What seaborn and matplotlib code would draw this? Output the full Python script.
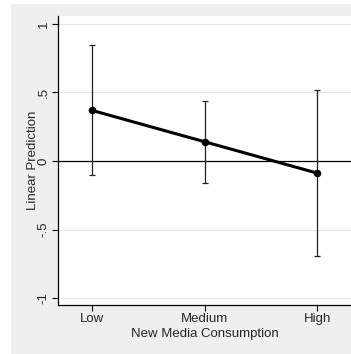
import matplotlib
matplotlib.use("Agg")
import matplotlib.pyplot as plt
import seaborn as sns
import pandas as pd
import numpy as np

# margins estimates
levels = ["Low", "Medium", "High"]
estimate = [0.37, 0.141, -0.088]
ci_low = [-0.104, -0.158, -0.693]
ci_high = [0.847, 0.44, 0.518]
yticks = [-1, -0.5, 0, 0.5, 1]
ytick_labels = ["-1", "-.5", "0", ".5", "1"]

df = pd.DataFrame({"level": levels, "est": estimate})

sns.set_style("white")
plt.rcParams["font.family"] = ["Liberation Sans", "DejaVu Sans"]

fig = plt.figure(figsize=(3.51, 3.54), dpi=100)
fig.patch.set_facecolor("white")
# stata graph region
fig.patches.append(plt.Rectangle((11 / 351, 0), 1, 1 - 4 / 354, transform=fig.transFigure,
                                 facecolor="#efefef", edgecolor="none", zorder=-10))
ax = fig.add_axes([58 / 351, 1 - 305 / 354, 1 - 58 / 351, (305 - 16) / 354])
ax.set_facecolor("white")

est = np.array(estimate)
yerr = [est - np.array(ci_low), np.array(ci_high) - est]
ax.errorbar(levels, estimate, yerr=yerr, fmt="none", ecolor="#222222",
            elinewidth=0.9, capsize=2.5, capthick=0.9, zorder=2)
sns.pointplot(data=df, x="level", y="est", order=levels, color="black",
              errorbar=None, markers="o", markersize=3.8, linewidth=2.2, ax=ax, zorder=3)

ax.axhline(0, color="black", lw=0.9, zorder=1)
for t in [-1, -0.5, 0.5, 1]:
    ax.axhline(t, color="#e6e6e6", lw=0.8, zorder=0)

ax.set_xlim(-0.3, 2.3)
ax.set_ylim(-1.05, 1.058)
ax.set_yticks(yticks)
ax.set_yticklabels(ytick_labels, rotation=90, va="center")
ax.tick_params(axis="both", direction="out", length=4, width=0.8, color="black",
               labelsize=9.5, pad=2, left=True, bottom=True)
ax.set_xlabel("New Media Consumption", fontsize=9.5, labelpad=2)
ax.set_ylabel("Linear Prediction", fontsize=9.5, labelpad=-1)

for s in ["top", "right"]:
    ax.spines[s].set_visible(False)
for s in ["left", "bottom"]:
    ax.spines[s].set_color("black")
    ax.spines[s].set_linewidth(0.9)

fig.savefig("out.png", dpi=100)
